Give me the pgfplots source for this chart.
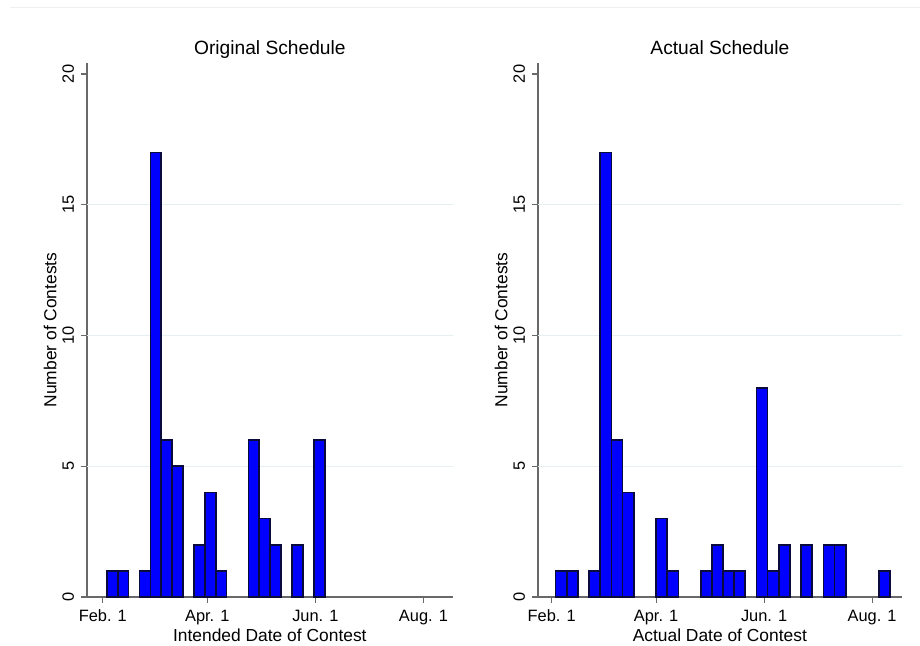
\documentclass[border=0pt]{standalone}
\usepackage{fontspec}
\setmainfont{Liberation Sans}
\usepackage{pgfplots}
\usepackage{pgfplotstable}
\pgfplotsset{compat=1.18}
\definecolor{barblue}{RGB}{0,0,255}
\definecolor{baredge}{RGB}{10,10,60}
\definecolor{axgray}{RGB}{105,105,105}
\definecolor{gridc}{RGB}{230,239,241}

\pgfplotstableread{
x y
5.34 1
11.49 1
23.79 1
29.94 17
36.09 6
42.24 5
54.54 2
60.69 4
66.84 1
85.29 6
91.44 3
97.59 2
109.89 2
122.19 6
}\original

\pgfplotstableread{
x y
5.41 1
11.71 1
24.31 1
30.61 17
36.91 6
43.21 4
62.11 3
68.41 1
87.31 1
93.61 2
99.91 1
106.21 1
118.81 8
125.11 1
131.41 2
144.01 2
156.61 2
162.91 2
188.11 1
}\actual

\pgfplotsset{
  histax/.style={
    scale only axis,
    height=267pt,
    ymin=0, ymax=20.42,
    axis x line*=bottom, axis y line*=left,
    axis line style={axgray, line width=0.6pt, -},
    tick align=outside,
    major tick length=3pt,
    tick style={axgray, line width=0.6pt},
    xtick={0,59,120,181},
    xticklabels={Feb. 1, Apr. 1, Jun. 1, Aug. 1},
    ytick={0,5,10,15,20},
    extra y ticks={5,10,15},
    extra y tick labels={},
    extra y tick style={grid=major, major tick length=0pt},
    grid style={gridc, line width=0.6pt},
    /pgf/number format/assume math mode=true,
    ticklabel style={font=\fontsize{8.2}{10}\selectfont},
    yticklabel style={rotate=90, anchor=south},
    title style={at={(axis description cs:0.5,1)}, anchor=base, yshift=-2pt,
      font=\fontsize{9.6}{11}\selectfont},
    xlabel style={at={(axis description cs:0.5,0)}, anchor=base, yshift=-22.5pt,
      font=\fontsize{8.7}{10}\selectfont},
    ylabel style={at={(axis description cs:-0.101,0.5)}, anchor=center,
      font=\fontsize{8.7}{10}\selectfont},
    ylabel={Number of Contests},
    clip=false,
  },
  histbar/.style={ybar, fill=barblue, draw=baredge, line width=0.85pt},
}

\begin{document}
\begin{tikzpicture}
\useasboundingbox (0,0) rectangle (460pt,323pt);
\fill[white] (0,0) rectangle (460pt,323pt);
\draw[black!6, line width=0.5pt] (5pt,319pt) -- (460pt,319pt);

\begin{axis}[histax,
  at={(43.5pt,24.5pt)}, anchor=south west,
  width=182.85pt,
  xmin=-8.9, xmax=197.5,
  title={Original Schedule},
  xlabel={Intended Date of Contest}]
\addplot[histbar, bar width=6.15] table[x=x, y=y] {\original};
\end{axis}

\begin{axis}[histax,
  at={(269pt,24.5pt)}, anchor=south west,
  width=181.85pt,
  xmin=-7.7, xmax=197.7,
  title={Actual Schedule},
  xlabel={Actual Date of Contest}]
\addplot[histbar, bar width=6.3] table[x=x, y=y] {\actual};
\end{axis}
\end{tikzpicture}
\end{document}
